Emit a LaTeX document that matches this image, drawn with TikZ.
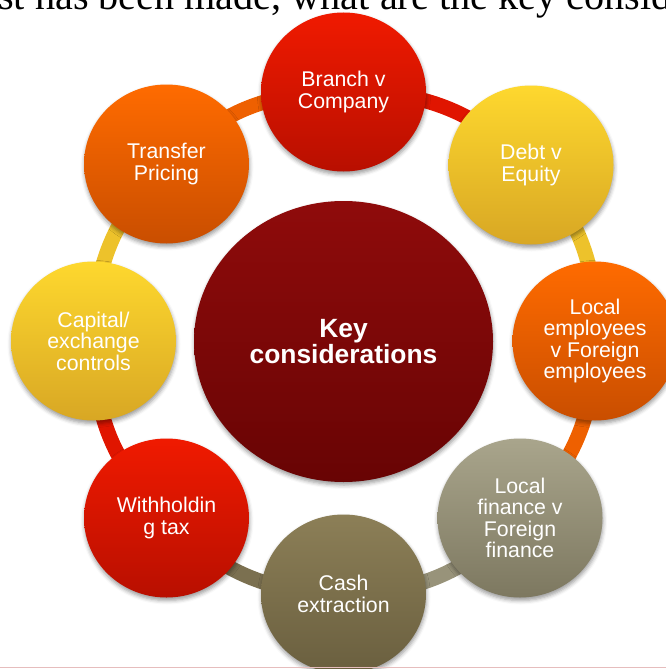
\documentclass[tikz,border=0pt]{standalone}
\usepackage{fontspec}
\setsansfont{Liberation Sans}
\newfontfamily\slidefont{Liberation Serif}
\usetikzlibrary{shapes.geometric, shadows.blur, backgrounds}

\definecolor{redtop}{HTML}{F01A00}
\definecolor{redbot}{HTML}{B80F00}
\definecolor{redring}{HTML}{E01500}
\definecolor{ambertop}{HTML}{FED82E}
\definecolor{amberbot}{HTML}{D8A724}
\definecolor{amberring}{HTML}{EDC22B}
\definecolor{orangetop}{HTML}{FF6B00}
\definecolor{orangebot}{HTML}{C94E00}
\definecolor{orangering}{HTML}{EE6000}
\definecolor{stonetop}{HTML}{A9A58C}
\definecolor{stonebot}{HTML}{7D7860}
\definecolor{stonering}{HTML}{98937A}
\definecolor{olivetop}{HTML}{8C7F57}
\definecolor{olivebot}{HTML}{6A5F3F}
\definecolor{olivering}{HTML}{7B7050}
\definecolor{wine}{HTML}{8F0B0B}
\definecolor{winebot}{HTML}{680404}
\definecolor{slideedge}{HTML}{E6BDBD}

\tikzset{
  topic/.style={ellipse, minimum width=165pt, minimum height=159pt, inner sep=0pt,
    text=white, align=center, font=\sffamily\fontsize{21.3}{21.5}\selectfont,
    blur shadow={shadow xshift=0.5pt, shadow yshift=-3pt, shadow blur radius=4pt, shadow opacity=40}},
  red topic/.style={topic, top color=redtop, bottom color=redbot},
  amber topic/.style={topic, top color=ambertop, bottom color=amberbot},
  orange topic/.style={topic, top color=orangetop, bottom color=orangebot},
  stone topic/.style={topic, top color=stonetop, bottom color=stonebot},
  olive topic/.style={topic, top color=olivetop, bottom color=olivebot},
  hub/.style={topic, minimum width=299pt, minimum height=281pt, top color=wine, bottom color=winebot,
    font=\sffamily\bfseries\fontsize{26.4}{26}\selectfont},
  ring/.style={line width=15pt, bend left=22.5}
}

\begin{document}
\begin{tikzpicture}[x=1pt, y=-1pt]
\useasboundingbox (0,0) rectangle (666,669);
\clip (0,0) rectangle (666,669);

\node[hub] (key) at (343.5,341.5) {Key\\considerations};

\node[red topic] (br) at (343.5,92) {Branch v\\Company};
\node[amber topic] (de) at (531,165) {Debt v\\Equity};
\node[orange topic] (em) at (595,341) {Local\\employees\\v Foreign\\employees};
\node[stone topic] (fi) at (520,518) {Local\\finance v\\Foreign\\finance};
\node[olive topic] (ca) at (343.5,594) {Cash\\extraction};
\node[red topic] (wh) at (166.5,518) {Withholdin\\g tax};
\node[amber topic] (cc) at (93.5,341) {Capital/\\exchange\\controls};
\node[orange topic] (tp) at (166.5,164) {Transfer\\Pricing};

\begin{scope}[on background layer]
\path[ring]
(br.center) edge[draw=redring] (de.center)
(de.center) edge[draw=amberring] (em.center)
(em.center) edge[draw=orangering] (fi.center)
(fi.center) edge[draw=stonering] (ca.center)
(ca.center) edge[draw=olivering] (wh.center)
(wh.center) edge[draw=redring] (cc.center)
(cc.center) edge[draw=amberring] (tp.center)
(tp.center) edge[draw=orangering] (br.center);
\end{scope}

\node[anchor=base west, inner sep=0pt, font=\slidefont\fontsize{40.2}{42}\selectfont] (title) at (-2,10)
  {st has been made, what are the key considerations};

\draw[slideedge, line width=1pt] (0,667.5) -- (666,667.5);

\end{tikzpicture}
\end{document}
